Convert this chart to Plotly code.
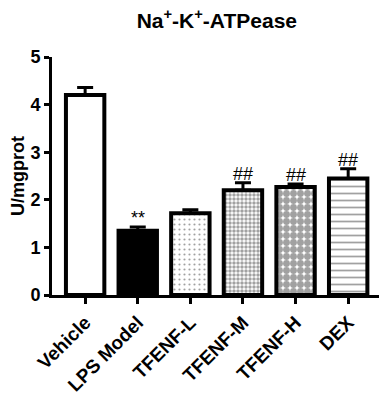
import plotly.graph_objects as go

categories = ["Vehicle", "LPS Model", "TFENF-L", "TFENF-M", "TFENF-H", "DEX"]
values = [4.2, 1.35, 1.72, 2.2, 2.27, 2.45]
errors = [0.16, 0.08, 0.07, 0.16, 0.06, 0.2]
sig_labels = ["", "**", "", "##", "##", "##"]

fills = ["white", "black", "white", "white", "white", "white"]
shapes = ["", "", ".", ".", ".", "-"]
sizes = [8, 8, 5, 4, 7, 7]
solid = [0.3, 0.3, 0.15, 0.6, 0.75, 0.25]

FONT = "Liberation Sans, Arial"

fig = go.Figure()
fig.add_trace(go.Bar(
    x=categories, y=values, width=0.73,
    marker=dict(color=fills, line=dict(color="black", width=4),
                pattern=dict(shape=shapes, size=sizes, solidity=solid,
                             fgcolor="black", bgcolor="white", fillmode="overlay")),
    error_y=dict(type="data", array=errors, arrayminus=[0]*6, symmetric=False,
                 color="black", thickness=3, width=8),
))

for c, v, e, s in zip(categories, values, errors, sig_labels):
    if s:
        fig.add_annotation(x=c, y=v + e, text=s, showarrow=False, yanchor="bottom",
                           yshift=-3, font=dict(family=FONT, size=18, color="black"))

# page has an 8px body margin, so the figure is 8px smaller and offset
fig.update_layout(
    width=379, height=395, plot_bgcolor="white", paper_bgcolor="white",
    margin=dict(l=44, r=2, t=49, b=108, autoexpand=False), showlegend=False,
    title=dict(text="<b>Na<sup>+</sup>-K<sup>+</sup>-ATPease</b>", x=0.551, xanchor="center",
               y=0.968, yanchor="middle",
               font=dict(family=FONT, size=21, color="black")),
    font=dict(family=FONT, color="black"),
)
fig.update_xaxes(range=[-0.63, 5.7], showline=True, linecolor="black", linewidth=3,
                 ticks="outside", ticklen=6, tickwidth=2.5, tickcolor="black",
                 tickangle=-45, tickfont=dict(size=19, family=FONT, color="black"),
                 tickprefix="<b>", ticksuffix="</b>", automargin=False)
fig.update_yaxes(range=[0, 5], dtick=1, showline=True, linecolor="black", linewidth=3,
                 ticks="outside", ticklen=5, tickwidth=2.5, tickcolor="black", showgrid=False,
                 zeroline=False, automargin=False,
                 tickfont=dict(size=18, family=FONT, color="black"),
                 tickprefix="<b>", ticksuffix="</b>",
                 title=dict(text="<b>U/mgprot</b>", font=dict(size=18, family=FONT, color="black"), standoff=6))
fig.write_html("out.html")
